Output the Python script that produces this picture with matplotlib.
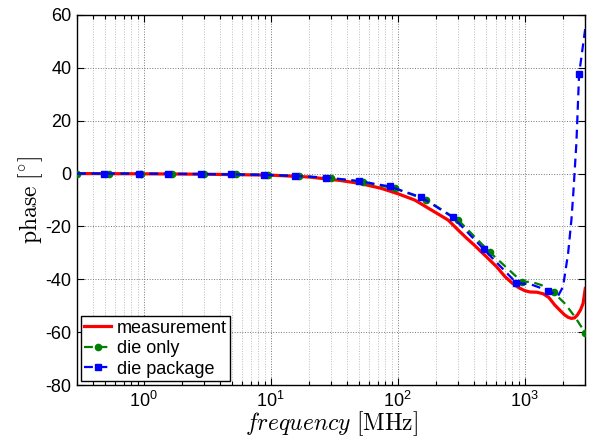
import matplotlib
matplotlib.use("Agg")
import matplotlib.pyplot as plt
from matplotlib.ticker import LogLocator, NullFormatter, FixedLocator

plt.rcParams['font.family'] = ['Liberation Sans', 'DejaVu Sans']
plt.rcParams['mathtext.fontset'] = 'cm'

# measurement (red)
meas_f = [0.3, 1, 3, 10, 20, 35, 50, 74.4, 100, 136, 150, 180, 200, 250, 300, 350, 400,
          450, 500, 600, 700, 800, 900, 1000, 1100, 1250, 1400, 1550, 1723, 1900, 2065,
          2200, 2333, 2470, 2600, 2750, 2884, 3000]
meas_p = [0, -0.1, -0.25, -0.6, -1.3, -2.6, -3.7, -5.6, -7.6, -10, -11.2, -13.5, -14.8,
          -17.6, -21.4, -24.5, -27.0, -29.4, -31.5, -35.2, -39.0, -41.5, -43.2, -44.3,
          -44.8, -44.9, -45.5, -46.9, -49.7, -51.8, -53.5, -54.4, -54.8, -54.6, -53.5,
          -51.6, -49.1, -43.5]

# die only (green)
die_f = [0.3, 0.533, 0.949, 1.687, 3, 5.33, 9.49, 16.87, 30, 53.3, 94.9, 168.7, 300,
         533, 949, 1130, 1355, 1687, 2065, 2477, 3000]
die_p = [0, 0, -0.05, -0.1, -0.2, -0.35, -0.55, -1.0, -1.8, -3.3, -5.6, -10, -17.6,
         -29.8, -40.9, -41.0, -42.2, -45.0, -49.1, -54.1, -60.3]
die_marks = [0, 1, 2, 3, 4, 5, 6, 7, 8, 9, 10, 11, 12, 13, 14, 17, 20]

# die package (blue)
pkg_f = [0.3, 0.493, 0.914, 1.57, 2.85, 4.9, 8.9, 15.6, 27.5, 49.3, 86.5, 153.8, 273,
         479, 861, 1130, 1528, 1832, 2005, 2197, 2333, 2405, 2553, 2682, 3000]
pkg_p = [0, 0, -0.05, -0.1, -0.2, -0.3, -0.5, -0.9, -1.5, -2.8, -4.9, -9.0, -16.6,
         -28.7, -41.4, -42.0, -44.3, -46.3, -42.8, -30.2, -17.5, -8.7, 11.5, 37.6, 55]
pkg_marks = [1, 2, 3, 4, 5, 6, 7, 8, 9, 10, 11, 12, 13, 14, 16, 23]

yticks = [-80, -60, -40, -20, 0, 20, 40, 60]

fig = plt.figure(figsize=(5.93, 4.4), dpi=100)
ax = fig.add_axes([0.130, 0.125, 0.857, 0.841])

ax.plot(meas_f, meas_p, color='#ff0000', lw=2.3, ls='-', label='measurement', zorder=3)
ax.plot(die_f, die_p, color='#008000', lw=1.6, ls='--', dashes=(4, 2.5), marker='o',
        ms=4.5, markevery=die_marks, label='die only', zorder=4)
ax.plot(pkg_f, pkg_p, color='#0000ff', lw=1.6, ls='--', dashes=(4, 2.5), marker='s',
        ms=4.5, markevery=pkg_marks, label='die package', zorder=5)

ax.set_xscale('log')
ax.set_xlim(0.3, 3000)
ax.set_ylim(-80, 60)
ax.yaxis.set_major_locator(FixedLocator(yticks))
ax.set_yticklabels([str(v) for v in yticks])
ax.xaxis.set_major_locator(LogLocator(base=10, numticks=10))
ax.xaxis.set_minor_locator(LogLocator(base=10, subs=range(2, 10), numticks=20))
ax.xaxis.set_minor_formatter(NullFormatter())

ax.grid(True, which='major', axis='both', ls=':', color='#777777', lw=0.7)
ax.grid(True, which='minor', axis='x', ls=':', color='#bbbbbb', lw=0.7)

ax.tick_params(which='both', direction='in', top=True, right=True, labelsize=13,
               width=0.8, colors='black')
ax.tick_params(which='major', length=5, pad=4)
ax.tick_params(which='minor', length=3)
for s in ax.spines.values():
    s.set_linewidth(1.0)

ax.set_xlabel(r'$frequency\ [\mathrm{MHz}]$', fontsize=17, labelpad=-1)
ax.set_ylabel(r'$\mathrm{phase}\ [^{\circ}]$', fontsize=17, labelpad=0)

leg = ax.legend(loc='lower left', bbox_to_anchor=(0.0, 0.0), fontsize=13,
                frameon=True, fancybox=False, framealpha=1, edgecolor='black',
                handlelength=1.5, handletextpad=0.3, labelspacing=0.2,
                borderpad=0.2, borderaxespad=0.2, numpoints=1)
leg.get_frame().set_linewidth(1.0)

fig.savefig('out.png', dpi=100)
